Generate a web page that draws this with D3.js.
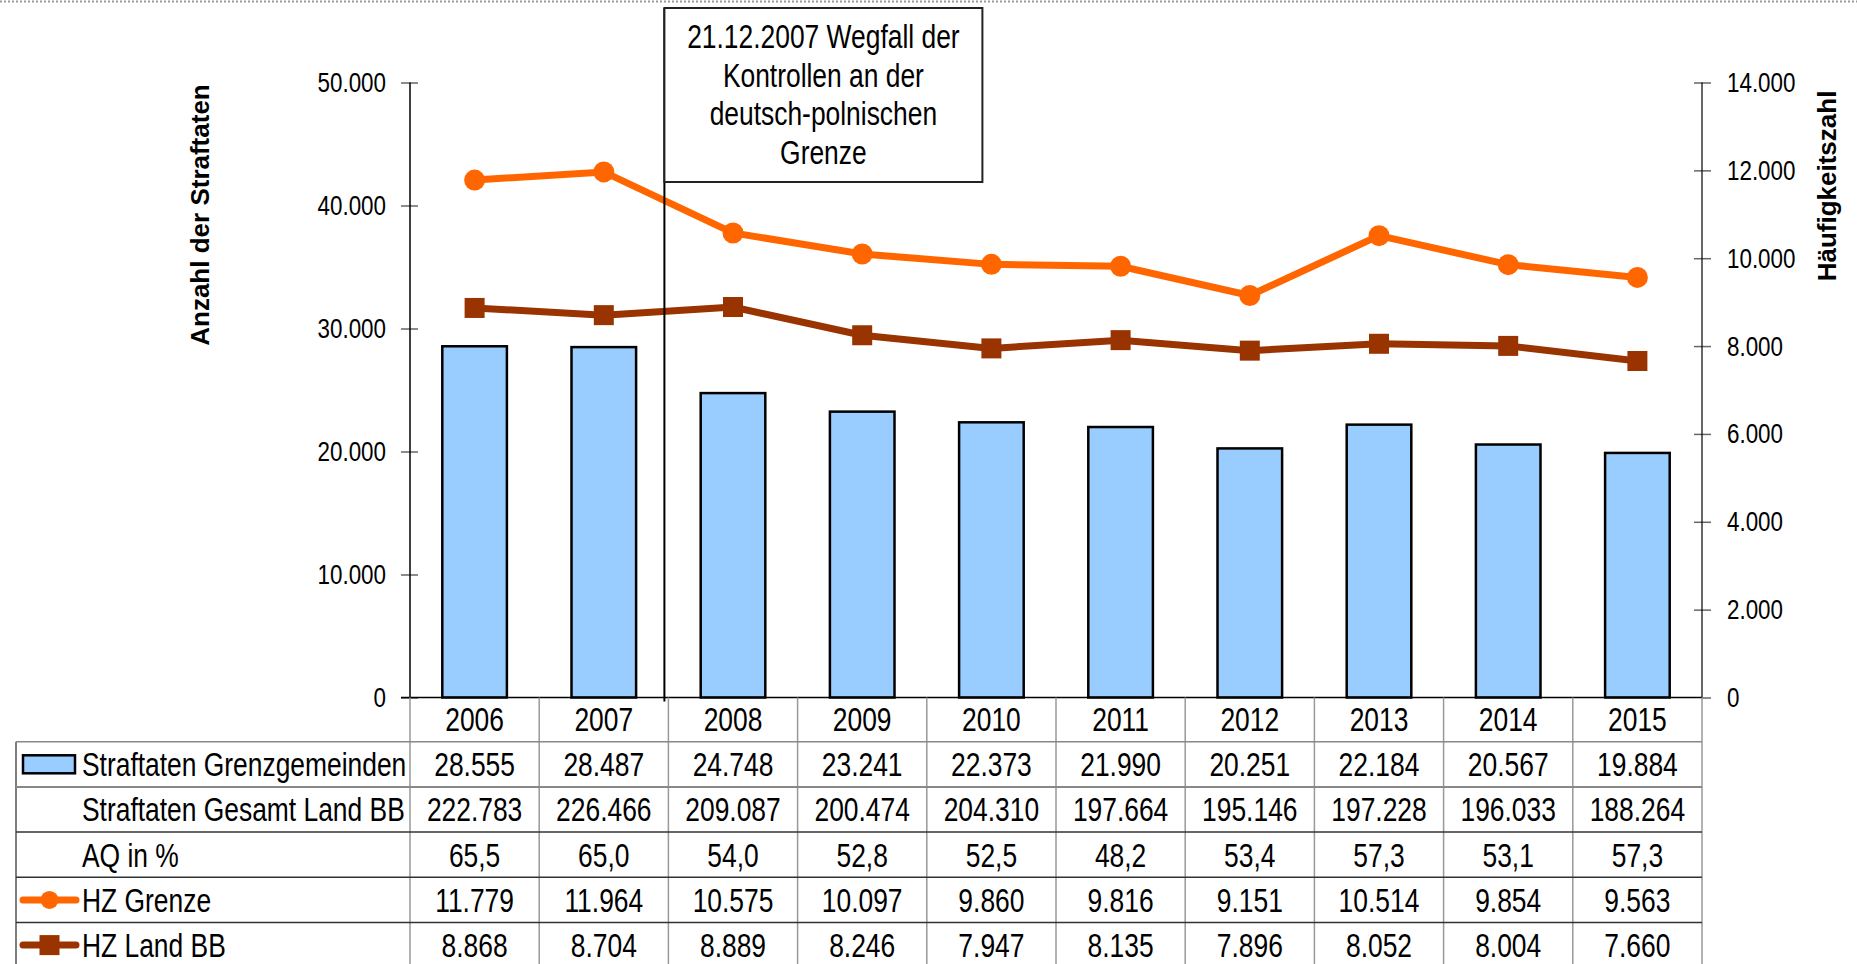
<!DOCTYPE html>
<html>
<head>
<meta charset="utf-8">
<script src="https://cdn.jsdelivr.net/npm/d3@7"></script>
<style>
  body { margin: 0; background: #fff; }
  svg { display: block; }
  .narrow { font-family: "Liberation Sans", Arial, sans-serif; }
</style>
</head>
<body>
<div id="chart"></div>
<script>
// data
var years = ["2006", "2007", "2008", "2009", "2010", "2011", "2012", "2013", "2014", "2015"];
var straftatenGrenze = [28555, 28487, 24748, 23241, 22373, 21990, 20251, 22184, 20567, 19884];
var straftatenLand = [222783, 226466, 209087, 200474, 204310, 197664, 195146, 197228, 196033, 188264];
var aq = [65.5, 65.0, 54.0, 52.8, 52.5, 48.2, 53.4, 57.3, 53.1, 57.3];
var hzGrenze = [11779, 11964, 10575, 10097, 9860, 9816, 9151, 10514, 9854, 9563];
var hzLand = [8868, 8704, 8889, 8246, 7947, 8135, 7896, 8052, 8004, 7660];
var leftTicks = [0, 10000, 20000, 30000, 40000, 50000];
var rightTicks = [0, 2000, 4000, 6000, 8000, 10000, 12000, 14000];
var rowLabels = ["Straftaten Grenzgemeinden", "Straftaten Gesamt Land BB", "AQ in %", "HZ Grenze", "HZ Land BB"];
var annotationLines = ["21.12.2007 Wegfall der", "Kontrollen an der", "deutsch-polnischen", "Grenze"];

var W = 1857, H = 964;
var x0 = 410, x1 = 1702, yTop = 82.5, yZero = 697.5;
var tableLeft = 16, rowH = 45.2, headerBottom = 741.7;
var K = 0.8; // no Arial Narrow here, so squeeze Liberation Sans

var de = d3.formatLocale({ decimal: ",", thousands: ".", grouping: [3], currency: ["", " €"] });
var fmtInt = de.format(",d");
var fmtDec = de.format(",.1f");

var ORANGE = "#ff6600", BROWN = "#993300", BLUE = "#99ccff";

// squeeze text horizontally, keeping its anchor point
function squeeze(sel) {
    sel.each(function () {
        var t = d3.select(this);
        var xv = +(t.attr("x") || 0);
        t.attr("x", xv / K).attr("transform", "scale(" + K + ",1)");
        t.selectAll("tspan").each(function () {
            var s = d3.select(this);
            s.attr("x", +(s.attr("x") || 0) / K);
        });
    });
}

var svg = d3.select("#chart").append("svg")
    .attr("width", W)
    .attr("height", H);

// dotted page border on top
svg.append("line")
    .attr("x1", 0).attr("x2", W)
    .attr("y1", 1.5).attr("y2", 1.5)
    .attr("stroke", "#999")
    .attr("stroke-width", 2)
    .attr("stroke-dasharray", "2,2");

var x = d3.scaleBand().domain(years).range([x0, x1]).padding(0);
var y = d3.scaleLinear().domain([0, 50000]).range([yZero, yTop]);
var y2 = d3.scaleLinear().domain([0, 14000]).range([yZero, yTop]);
var bw = x.bandwidth();

// bars
svg.append("g").selectAll("rect")
    .data(years)
    .enter()
    .append("rect")
    .attr("x", function (d) { return x(d) + bw * 0.25; })
    .attr("width", bw * 0.5)
    .attr("y", function (d, i) { return y(straftatenGrenze[i]); })
    .attr("height", function (d, i) { return yZero - y(straftatenGrenze[i]); })
    .attr("fill", BLUE)
    .attr("stroke", "#000")
    .attr("stroke-width", 2.5);

// left axis
var leftAxis = svg.append("g")
    .attr("class", "narrow")
    .attr("transform", "translate(" + x0 + ",0)")
    .call(d3.axisLeft(y).tickValues(leftTicks).tickFormat(fmtInt).tickSize(0).tickPadding(24));
leftAxis.select(".domain").remove();
leftAxis.attr("font-family", null);
leftAxis.selectAll("text").attr("font-size", 28).attr("fill", "#000").call(squeeze);
leftAxis.selectAll(".tick").append("line")
    .attr("x1", -9).attr("x2", 8)
    .attr("stroke", "#666").attr("stroke-width", 1.5);

// right axis
var rightAxis = svg.append("g")
    .attr("class", "narrow")
    .attr("transform", "translate(" + x1 + ",0)")
    .call(d3.axisRight(y2).tickValues(rightTicks).tickFormat(fmtInt).tickSize(0).tickPadding(25));
rightAxis.select(".domain").remove();
rightAxis.attr("font-family", null);
rightAxis.selectAll("text").attr("font-size", 28).attr("fill", "#000").call(squeeze);
rightAxis.selectAll(".tick").append("line")
    .attr("x1", function (d) { return d === 0 ? 0 : -8; }).attr("x2", 9)
    .attr("stroke", "#666").attr("stroke-width", 1.5);

svg.append("line").attr("x1", x0).attr("x2", x0).attr("y1", yTop).attr("y2", yZero)
    .attr("stroke", "#000").attr("stroke-width", 1.5);
svg.append("line").attr("x1", x1).attr("x2", x1).attr("y1", yTop).attr("y2", yZero)
    .attr("stroke", "#000").attr("stroke-width", 1.2);
svg.append("line").attr("x1", x0 - 9).attr("x2", x1).attr("y1", yZero).attr("y2", yZero)
    .attr("stroke", "#000").attr("stroke-width", 1.5);

// axis titles
svg.append("text")
    .attr("transform", "translate(209,215) rotate(-90)")
    .attr("text-anchor", "middle")
    .attr("font-family", "'Liberation Sans', Arial, sans-serif")
    .attr("font-weight", "bold")
    .attr("font-size", 26)
    .text("Anzahl der Straftaten");
svg.append("text")
    .attr("transform", "translate(1836,186) rotate(-90)")
    .attr("text-anchor", "middle")
    .attr("font-family", "'Liberation Sans', Arial, sans-serif")
    .attr("font-weight", "bold")
    .attr("font-size", 26)
    .text("Häufigkeitszahl");

// lines
var cx = function (d, i) { return x(years[i]) + bw / 2; };
var lineGen = d3.line().x(cx).y(function (d) { return y2(d); });

svg.append("path")
    .datum(hzLand)
    .attr("d", lineGen)
    .attr("fill", "none")
    .attr("stroke", BROWN)
    .attr("stroke-width", 7);
svg.append("g").selectAll("rect")
    .data(hzLand)
    .enter()
    .append("rect")
    .attr("x", function (d, i) { return cx(d, i) - 10; })
    .attr("y", function (d) { return y2(d) - 10; })
    .attr("width", 20).attr("height", 20)
    .attr("fill", BROWN);

svg.append("path")
    .datum(hzGrenze)
    .attr("d", lineGen)
    .attr("fill", "none")
    .attr("stroke", ORANGE)
    .attr("stroke-width", 7);
svg.append("g").selectAll("circle")
    .data(hzGrenze)
    .enter()
    .append("circle")
    .attr("cx", cx)
    .attr("cy", function (d) { return y2(d); })
    .attr("r", 10.5)
    .attr("fill", ORANGE);

// annotation: border controls dropped end of 2007
var ax = x("2008") - 4;
svg.append("line")
    .attr("x1", ax).attr("x2", ax)
    .attr("y1", 8).attr("y2", yZero + 4)
    .attr("stroke", "#000").attr("stroke-width", 2);
svg.append("rect")
    .attr("x", ax).attr("y", 8)
    .attr("width", 318).attr("height", 174)
    .attr("fill", "#fff")
    .attr("stroke", "#222").attr("stroke-width", 2);
svg.append("text")
    .attr("class", "narrow")
    .attr("text-anchor", "middle")
    .attr("font-size", 33)
    .selectAll("tspan")
    .data(annotationLines)
    .enter()
    .append("tspan")
    .attr("x", ax + 159)
    .attr("y", function (d, i) { return 48.5 + i * 38.4; })
    .text(function (d) { return d; });
svg.selectAll("text.narrow").call(squeeze);

// data table
var table = svg.append("g").attr("class", "narrow");
var tableBottom = headerBottom + rowH * rowLabels.length;

// vertical grid lines at column boundaries
var bounds = years.map(function (d) { return x(d); }).slice(1);
table.selectAll("line.v")
    .data(bounds)
    .enter()
    .append("line")
    .attr("x1", function (d) { return d; }).attr("x2", function (d) { return d; })
    .attr("y1", yZero).attr("y2", tableBottom)
    .attr("stroke", "#999").attr("stroke-width", 1.5);
table.append("line").attr("x1", x0).attr("x2", x0).attr("y1", yZero).attr("y2", tableBottom)
    .attr("stroke", "#999").attr("stroke-width", 1.5);
table.append("line").attr("x1", x1).attr("x2", x1).attr("y1", yZero).attr("y2", tableBottom)
    .attr("stroke", "#999").attr("stroke-width", 1.5);
table.append("line").attr("x1", tableLeft).attr("x2", tableLeft).attr("y1", headerBottom).attr("y2", tableBottom)
    .attr("stroke", "#555").attr("stroke-width", 1.5);

// horizontal lines
table.selectAll("line.h")
    .data(d3.range(rowLabels.length + 1))
    .enter()
    .append("line")
    .attr("x1", tableLeft).attr("x2", x1)
    .attr("y1", function (i) { return headerBottom + i * rowH; })
    .attr("y2", function (i) { return headerBottom + i * rowH; })
    .attr("stroke", function (i) { return i < 2 ? "#888" : "#333"; })
    .attr("stroke-width", function (i) { return i === 1 ? 2 : 1.5; });

// year header
table.selectAll("text.year")
    .data(years)
    .enter()
    .append("text")
    .attr("x", function (d) { return x(d) + bw / 2; })
    .attr("y", (yZero + headerBottom) / 2)
    .attr("dy", "0.36em")
    .attr("text-anchor", "middle")
    .attr("font-size", 33)
    .text(function (d) { return d; });

var rows = [
    straftatenGrenze.map(fmtInt),
    straftatenLand.map(fmtInt),
    aq.map(fmtDec),
    hzGrenze.map(fmtInt),
    hzLand.map(fmtInt)
];

rows.forEach(function (vals, r) {
    var cy = headerBottom + r * rowH + rowH / 2;
    table.append("text")
        .attr("x", 82)
        .attr("y", cy)
        .attr("dy", "0.36em")
        .attr("font-size", 33)
        .text(rowLabels[r]);
    table.append("g").selectAll("text")
        .data(vals)
        .enter()
        .append("text")
        .attr("x", function (d, i) { return x(years[i]) + bw / 2; })
        .attr("y", cy)
        .attr("dy", "0.36em")
        .attr("text-anchor", "middle")
        .attr("font-size", 33)
        .text(function (d) { return d; });
});
table.selectAll("text").call(squeeze);

// legend keys in the label column
var r0 = headerBottom + rowH / 2;
svg.append("rect")
    .attr("x", 23).attr("y", r0 - 9)
    .attr("width", 52).attr("height", 18)
    .attr("fill", BLUE).attr("stroke", "#000").attr("stroke-width", 2.5);

var r3 = headerBottom + 3 * rowH + rowH / 2;
svg.append("line").attr("x1", 23).attr("x2", 76).attr("y1", r3).attr("y2", r3)
    .attr("stroke", ORANGE).attr("stroke-width", 7).attr("stroke-linecap", "round");
svg.append("circle").attr("cx", 49.5).attr("cy", r3).attr("r", 9).attr("fill", ORANGE);

var r4 = headerBottom + 4 * rowH + rowH / 2;
svg.append("line").attr("x1", 23).attr("x2", 76).attr("y1", r4).attr("y2", r4)
    .attr("stroke", BROWN).attr("stroke-width", 7).attr("stroke-linecap", "round");
svg.append("rect").attr("x", 39.5).attr("y", r4 - 10).attr("width", 20).attr("height", 20).attr("fill", BROWN);
</script>
</body>
</html>
